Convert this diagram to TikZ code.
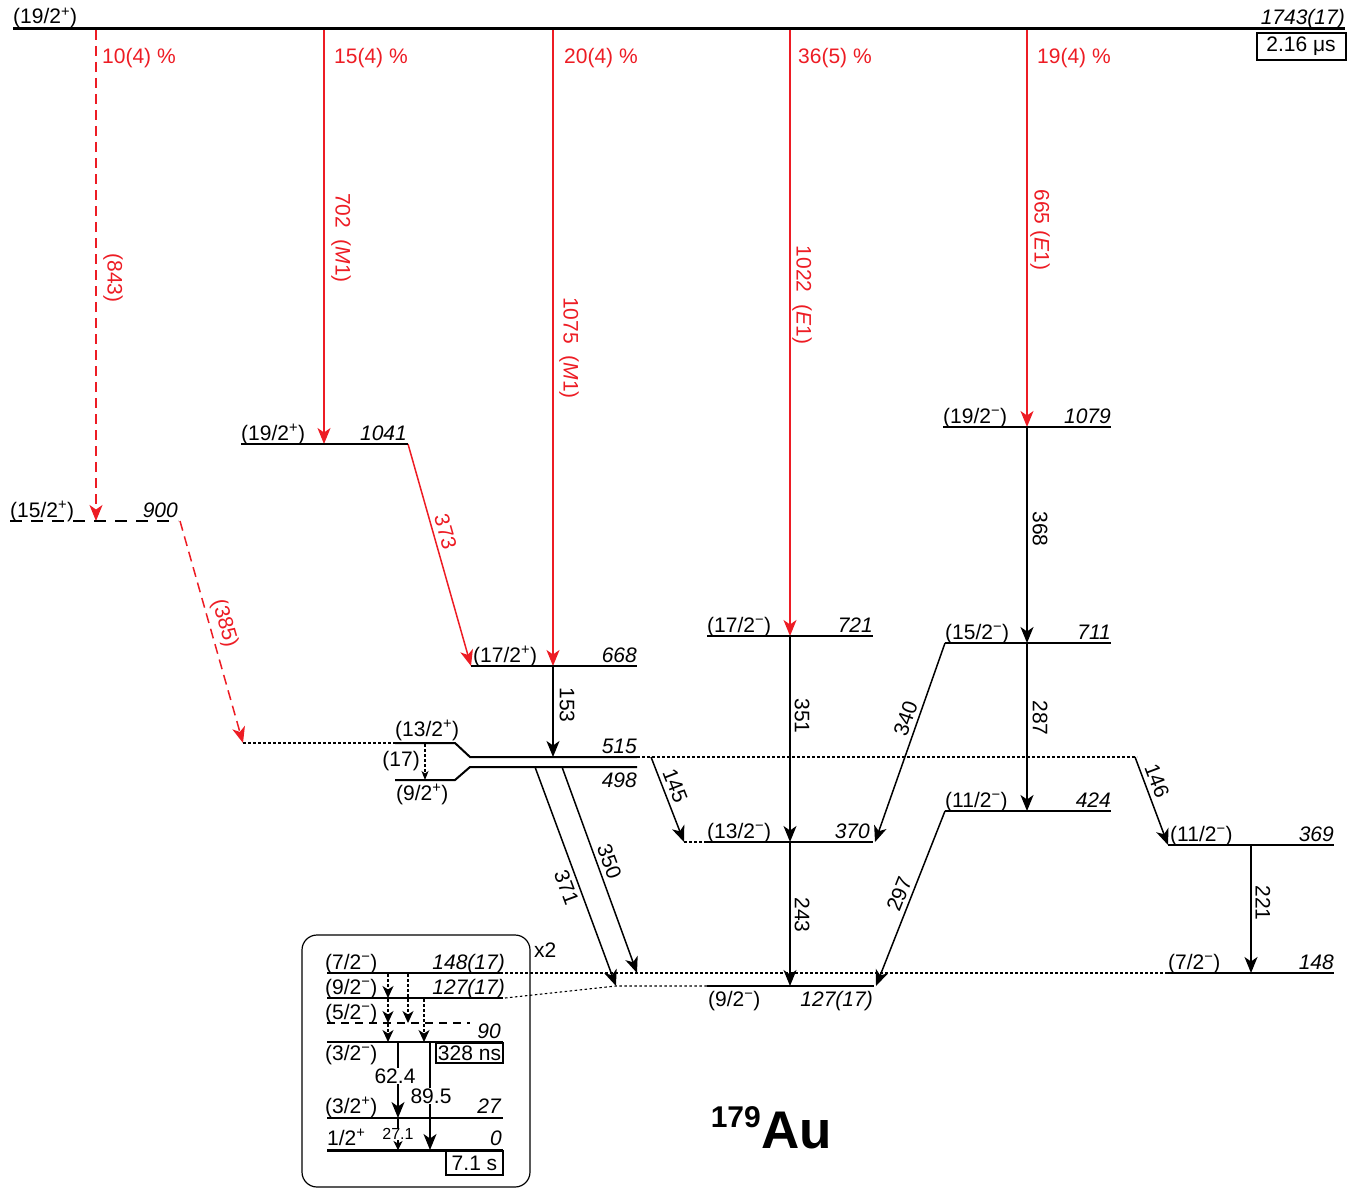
\documentclass[tikz,border=0pt]{standalone}
\usepackage{fontspec}
\setmainfont{Liberation Sans}
\usetikzlibrary{arrows.meta}
\definecolor{auRed}{RGB}{237,28,36}
\newcommand{\spl}{\textsuperscript{+}}
\newcommand{\smi}{\textsuperscript{−}}
\begin{document}
\begin{tikzpicture}[x=1pt,y=-1pt,
  txt/.style={font=\fontsize{21}{25}\selectfont, inner sep=0pt},
  en/.style={inner sep=0pt, font=\fontsize{21}{25}\selectfont\itshape},
  lev/.style={line width=2pt},
  arrowhd/.style={-{Stealth[length=16pt,width=13pt,inset=4.5pt]}},
  tr/.style={line width=1.5pt, arrowhd},
  rtr/.style={tr, auRed},
  rlab/.style={txt, text=auRed},
  dotl/.style={line width=1.1pt, dash pattern=on 2.5pt off 2.5pt},
  dtr/.style={dotl, -{Stealth[length=12pt,width=11pt,inset=3.5pt]}},
  vlab/.style={txt, rotate=-90},
  slab/.style={txt, sloped, inner sep=4pt},
  boxed/.style={draw, txt, inner sep=0pt},
]
\useasboundingbox (0,0) rectangle (1354,1188);

% ---------- top level
\draw[line width=3pt] (13,29) -- (1345,29);
\node[txt, anchor=base west] (jtop) at (13,24) {(19/2\spl)};
\node[en, anchor=base east] (etop) at (1345,25) {1743(17)};
\node[boxed, line width=2pt, minimum width=89pt, minimum height=27pt] (ttop) at (1301,46.5) {2.16 μs};

% ---------- coordinates of transition ends
\coordinate (r1a) at (96,30);   \coordinate (r1b) at (96,521);
\coordinate (r2a) at (324,30);  \coordinate (r2b) at (324,444);
\coordinate (r3a) at (553,30);  \coordinate (r3b) at (553,666);
\coordinate (r4a) at (790,30);  \coordinate (r4b) at (790,636);
\coordinate (r5a) at (1027,30); \coordinate (r5b) at (1027,427);
\coordinate (r6a) at (408,444); \coordinate (r6b) at (471,666);
\coordinate (r7a) at (180,521); \coordinate (r7b) at (243,743);

% ---------- red transitions
\draw[rtr, dash pattern=on 10pt off 6pt] (r1a) -- (r1b);
\draw[rtr] (r2a) -- (r2b);
\draw[rtr] (r3a) -- (r3b);
\draw[rtr] (r4a) -- (r4b);
\draw[rtr] (r5a) -- (r5b);
\draw[rtr] (r6a) -- node[slab, pos=0.41, above, text=auRed] (l373) {373} (r6b);
\draw[rtr, dash pattern=on 10pt off 6pt] (r7a) -- node[slab, pos=0.48, above, text=auRed] (l385) {(385)} (r7b);

\node[rlab, anchor=base west] (p1) at (102,64) {10(4) \%};
\node[rlab, anchor=base west] (p2) at (334,64) {15(4) \%};
\node[rlab, anchor=base west] (p3) at (564,64) {20(4) \%};
\node[rlab, anchor=base west] (p4) at (798,64) {36(5) \%};
\node[rlab, anchor=base west] (p5) at (1037,64) {19(4) \%};

\node[vlab, text=auRed] (l843) at (113,278) {(843)};
\node[vlab, text=auRed] (l702) at (341,238) {702\ \ (\textit{M}1)};
\node[vlab, text=auRed] (l1075) at (569,348) {1075\ \ (\textit{M}1)};
\node[vlab, text=auRed] (l1022) at (802,295) {1022\ \ (\textit{E}1)};
\node[vlab, text=auRed] (l665) at (1040,230) {665 (\textit{E}1)};

% ---------- levels
% 1041
\draw[lev] (241,444) -- (408,444);
\node[txt, anchor=base west] (j1041) at (241,440) {(19/2\spl)};
\node[en, anchor=base east] (e1041) at (407,440) {1041};
% 900
\draw[lev, dash pattern=on 12pt off 9pt] (10,521) -- (178,521);
\node[txt, anchor=base west] (j900) at (10,517) {(15/2\spl)};
\node[en, anchor=base east] (e900) at (178,517) {900};
% 1079
\draw[lev] (943,427) -- (1111,427);
\node[txt, anchor=base west] (j1079) at (943,423) {(19/2\smi)};
\node[en, anchor=base east] (e1079) at (1111,423) {1079};
% 721
\draw[lev] (707,636) -- (873,636);
\node[txt, anchor=base west] (j721) at (707,632) {(17/2\smi)};
\node[en, anchor=base east] (e721) at (873,632) {721};
% 711
\draw[lev] (945,643) -- (1111,643);
\node[txt, anchor=base west] (j711) at (945,639) {(15/2\smi)};
\node[en, anchor=base east] (e711) at (1111,639) {711};
% 668
\draw[lev] (471,666) -- (637,666);
\node[txt, anchor=base west] (j668) at (473,662) {(17/2\spl)};
\node[en, anchor=base east] (e668) at (637,662) {668};
% 515 / 498
\draw[dotl] (243,743) -- (395,743);
\draw[lev] (395,743) -- (455,743) -- (470,757) -- (637,757);
\draw[dotl] (637,757) -- (1137,757);
\draw[lev] (395,780) -- (455,780) -- (470,767) -- (637,767);
\node[txt, anchor=base west] (j515) at (395,736) {(13/2\spl)};
\node[en, anchor=base east] (e515) at (637,753) {515};
\node[txt, anchor=base west] (j498) at (396,800) {(9/2\spl)};
\node[en, anchor=base east] (e498) at (637,787) {498};
\node[txt, anchor=base east] (l17) at (420,766) {(17)};
\coordinate (d17a) at (425,744); \coordinate (d17b) at (425,780);
\draw[dotl, -{Stealth[length=9pt,width=7pt,inset=2.5pt]}] (d17a) -- (d17b);
% 370
\draw[dotl] (684,842) -- (707,842);
\draw[lev] (707,842) -- (873,842);
\node[txt, anchor=base west] (j370) at (707,838) {(13/2\smi)};
\node[en, anchor=base east] (e370) at (870,838) {370};
% 424
\draw[lev] (945,811) -- (1111,811);
\node[txt, anchor=base west] (j424) at (945,807) {(11/2\smi)};
\node[en, anchor=base east] (e424) at (1111,807) {424};
% 369
\draw[lev] (1168,845) -- (1334,845);
\node[txt, anchor=base west] (j369) at (1170,841) {(11/2\smi)};
\node[en, anchor=base east] (e369) at (1334,841) {369};
% 148
\draw[dotl] (505,973) -- (1168,973);
\draw[lev] (1168,973) -- (1334,973);
\node[txt, anchor=base west] (j148) at (1168,969) {(7/2\smi)};
\node[en, anchor=base east] (e148) at (1334,969) {148};
% 127
\draw[dotl] (505,998) -- (616,986) -- (707,986);
\draw[lev] (707,986) -- (874,986);
\node[txt, anchor=base west] (j127) at (708,1006) {(9/2\smi)};
\node[en, anchor=base east] (e127) at (873,1006) {127(17)};

% ---------- black transitions
\coordinate (b153a) at (553,666);  \coordinate (b153b) at (553,757);
\coordinate (b351a) at (790,636);  \coordinate (b351b) at (790,842);
\coordinate (b243a) at (790,842);  \coordinate (b243b) at (790,986);
\coordinate (b368a) at (1027,427); \coordinate (b368b) at (1027,643);
\coordinate (b287a) at (1027,643); \coordinate (b287b) at (1027,811);
\coordinate (b221a) at (1251,845); \coordinate (b221b) at (1251,973);
\coordinate (b340a) at (945,643);  \coordinate (b340b) at (875,842);
\coordinate (b297a) at (945,811);  \coordinate (b297b) at (876,986);
\coordinate (b145a) at (651,757);  \coordinate (b145b) at (684,842);
\coordinate (b146a) at (1135,757); \coordinate (b146b) at (1168,845);
\coordinate (b371a) at (535,767);  \coordinate (b371b) at (616,986);
\coordinate (b350a) at (562,767);  \coordinate (b350b) at (637,973);

\draw[tr] (b153a) -- (b153b);
\draw[tr] (b351a) -- (b351b);
\draw[tr] (b243a) -- (b243b);
\draw[tr] (b368a) -- (b368b);
\draw[tr] (b287a) -- (b287b);
\draw[tr] (b221a) -- (b221b);
\node[vlab] (l153) at (567,705) {153};
\node[vlab] (l351) at (802,716) {351};
\node[vlab] (l243) at (802,915) {243};
\node[vlab] (l368) at (1040,529) {368};
\node[vlab] (l287) at (1040,718) {287};
\node[vlab] (l221) at (1263,903) {221};
\draw[tr] (b340a) -- node[slab, pos=0.40, above] (l340) {340} (b340b);
\draw[tr] (b297a) -- node[slab, pos=0.50, above] (l297) {297} (b297b);
\draw[tr] (b145a) -- node[slab, pos=0.39, above] (l145) {145} (b145b);
\draw[tr] (b146a) -- node[slab, pos=0.32, above] (l146) {146} (b146b);
\draw[tr] (b371a) -- node[slab, pos=0.53, below] (l371) {371} (b371b);
\draw[tr] (b350a) -- node[slab, pos=0.48, above] (l350) {350} (b350b);

% ---------- inset
\draw[line width=1.2pt, rounded corners=15pt] (302,935) rectangle (530,1187);
\node[txt, anchor=base west] (x2) at (534,957) {x2};
\draw[lev] (327,973) -- (503,973);
\draw[lev] (327,998) -- (503,998);
\draw[lev, dash pattern=on 8pt off 6pt] (327,1023) -- (470,1023);
\draw[lev] (327,1042) -- (503,1042);
\draw[lev] (327,1118) -- (503,1118);
\draw[line width=3pt] (327,1150) -- (503,1150);
\node[txt, anchor=base west] (i72) at (325,969) {(7/2\smi)};
\node[en, anchor=base east] (i148) at (505,969) {148(17)};
\node[txt, anchor=base west] (i92) at (325,994) {(9/2\smi)};
\node[en, anchor=base east] (i127) at (505,994) {127(17)};
\node[txt, anchor=base west] (i52) at (325,1019) {(5/2\smi)};
\node[en, anchor=base east] (i90) at (501,1038) {90};
\node[txt, anchor=base west] (i32m) at (325,1060) {(3/2\smi)};
\node[boxed, line width=1.2pt, minimum width=67pt, minimum height=20pt] (i328) at (469.5,1053) {328 ns};
\node[txt, anchor=base west] (i32p) at (325,1113) {(3/2\spl)};
\node[en, anchor=base east] (i27) at (501,1113) {27};
\node[txt, anchor=base west] (i12) at (327,1145) {1/2\spl};
\node[en, anchor=base east] (i0) at (502,1145) {0};
\node[boxed, line width=1.2pt, minimum width=57pt, minimum height=24pt] (i71) at (474.5,1163) {7.1 s};

\coordinate (d1a) at (388,974);  \coordinate (d1b) at (388,998);
\coordinate (d2a) at (388,999);  \coordinate (d2b) at (388,1023);
\coordinate (d3a) at (388,1024); \coordinate (d3b) at (388,1042);
\coordinate (d4a) at (408,974);  \coordinate (d4b) at (408,1023);
\coordinate (d5a) at (424,999);  \coordinate (d5b) at (424,1042);
\draw[dtr] (d1a) -- (d1b);
\draw[dtr] (d2a) -- (d2b);
\draw[dtr] (d3a) -- (d3b);
\draw[dtr] (d4a) -- (d4b);
\draw[dtr] (d5a) -- (d5b);

\coordinate (g62a) at (398,1042); \coordinate (g62b) at (398,1118);
\coordinate (g89a) at (430,1042); \coordinate (g89b) at (430,1150);
\coordinate (g27a) at (398,1118); \coordinate (g27b) at (398,1150);
\draw[tr] (g62a) -- (g62b);
\draw[tr] (g89a) -- (g89b);
\draw[line width=1.2pt, -{Stealth[length=9pt,width=9pt,inset=2.5pt]}] (g27a) -- (g27b);
\node[txt, fill=white, inner sep=1pt] (l62) at (395,1076) {62.4};
\node[txt, fill=white, inner sep=1pt] (l89) at (431,1096) {89.5};
\node[inner sep=0.5pt, fill=white, font=\fontsize{16}{18}\selectfont] (l27) at (398,1134) {27.1};

% ---------- nucleus
\node[inner sep=0, anchor=base west, font=\bfseries\fontsize{53}{60}\selectfont] (au) at (761,1148) {Au};
\node[inner sep=0, anchor=base east, font=\bfseries\fontsize{30}{34}\selectfont] (a179) at (761,1127) {179};
\end{tikzpicture}
\end{document}
